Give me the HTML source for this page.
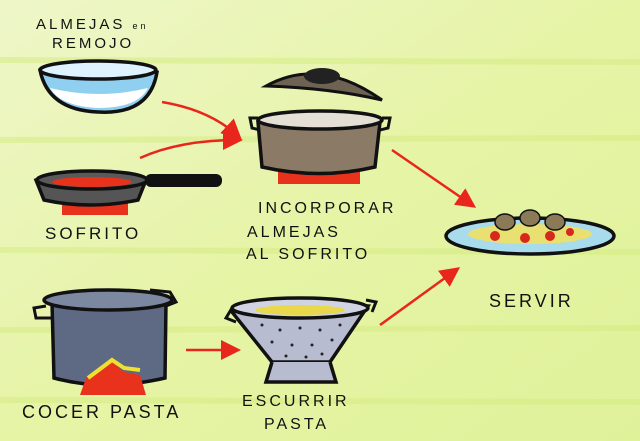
<!DOCTYPE html>
<html><head><meta charset="utf-8"><style>
html,body{margin:0;padding:0;background:#e4f29a;}
svg{display:block}
text{font-family:"Liberation Sans",sans-serif;fill:#111;letter-spacing:3px}
</style></head><body>
<svg width="640" height="441" viewBox="0 0 640 441" xmlns="http://www.w3.org/2000/svg">
<defs>
<marker id="ah" markerWidth="8" markerHeight="8" refX="6" refY="4" orient="auto" markerUnits="strokeWidth">
<path d="M0,0 L8,4 L0,8 Z" fill="#e8261c"/></marker>
<linearGradient id="bg" x1="0" y1="0" x2="1" y2="1">
<stop offset="0" stop-color="#eef6c8"/><stop offset="0.5" stop-color="#e6f4a6"/><stop offset="1" stop-color="#dff29a"/></linearGradient>
</defs>
<rect width="640" height="441" fill="url(#bg)"/>
<g stroke="#d4ec80" stroke-width="6" opacity="0.5">
<line x1="0" y1="60" x2="640" y2="62"/><line x1="0" y1="140" x2="640" y2="138"/>
<line x1="0" y1="250" x2="640" y2="252"/><line x1="0" y1="330" x2="640" y2="328"/>
<line x1="0" y1="400" x2="640" y2="402"/></g>

<!-- labels -->
<text x="36" y="29" font-size="15" letter-spacing="2">ALMEJAS <tspan font-size="9">en</tspan></text>
<text x="52" y="48" font-size="15">REMOJO</text>
<text x="45" y="239" font-size="17">SOFRITO</text>
<text x="258" y="213" font-size="16" letter-spacing="2">INCORPORAR</text>
<text x="247" y="237" font-size="16">ALMEJAS</text>
<text x="246" y="259" font-size="16" letter-spacing="2.5">AL SOFRITO</text>
<text x="489" y="307" font-size="18">SERVIR</text>
<text x="22" y="418" font-size="18" letter-spacing="2">COCER PASTA</text>
<text x="242" y="406" font-size="16" letter-spacing="2">ESCURRIR</text>
<text x="264" y="429" font-size="16">PASTA</text>

<!-- bowl -->
<path d="M40,70 Q98,55 157,72 Q150,115 98,112 Q48,110 40,70 Z" fill="#8fd0f0" stroke="#111" stroke-width="3.5"/>
<path d="M50,88 Q98,100 148,88 Q138,108 98,108 Q60,106 50,88Z" fill="#fff"/>
<ellipse cx="98" cy="70" rx="58" ry="9" fill="#dff2ff" stroke="#111" stroke-width="3.5"/>

<!-- pot with lid -->
<path d="M266,86 Q320,56 382,100 Q330,88 266,86Z" fill="#6e6252" stroke="#111" stroke-width="3"/>
<ellipse cx="322" cy="76" rx="18" ry="8" fill="#222"/>
<rect x="278" y="162" width="82" height="22" fill="#e8321c"/>
<path d="M258,122 L262,167 Q320,180 375,167 L380,122 Z" fill="#8a7a66" stroke="#111" stroke-width="3.5"/>
<ellipse cx="320" cy="120" rx="62" ry="9" fill="#e4e0d6" stroke="#111" stroke-width="3.5"/>
<path d="M258,118 L250,118 L252,128 L260,130" fill="none" stroke="#111" stroke-width="3"/>
<path d="M382,118 L390,118 L388,128 L380,130" fill="none" stroke="#111" stroke-width="3"/>

<!-- pan -->
<rect x="62" y="195" width="66" height="20" fill="#e8321c"/>
<path d="M36,180 Q90,165 146,180 L138,200 Q90,210 44,200 Z" fill="#555" stroke="#111" stroke-width="3.5"/>
<ellipse cx="92" cy="180" rx="55" ry="9" fill="#5a5a5a" stroke="#111" stroke-width="3.5"/>
<ellipse cx="92" cy="182" rx="40" ry="5" fill="#e8321c"/>
<rect x="145" y="174" width="77" height="13" rx="6" fill="#111"/>

<!-- plate -->
<ellipse cx="530" cy="236" rx="84" ry="18" fill="#a8dcec" stroke="#111" stroke-width="3.5"/>
<ellipse cx="530" cy="234" rx="62" ry="10" fill="#e8e070"/>
<g fill="#8a7a58" stroke="#111" stroke-width="1.5">
<ellipse cx="505" cy="222" rx="10" ry="8"/><ellipse cx="530" cy="218" rx="10" ry="8"/><ellipse cx="555" cy="222" rx="10" ry="8"/></g>
<g fill="#d8281c"><circle cx="495" cy="236" r="5"/><circle cx="525" cy="238" r="5"/><circle cx="550" cy="236" r="5"/><circle cx="570" cy="232" r="4"/></g>

<!-- big pot -->
<path d="M52,302 L54,378 Q105,392 165,378 L166,302 Z" fill="#5e6a84" stroke="#111" stroke-width="3.5"/>
<ellipse cx="108" cy="300" rx="64" ry="10" fill="#7c88a0" stroke="#111" stroke-width="3.5"/>
<path d="M46,306 L34,308 L36,318 L52,318" fill="none" stroke="#111" stroke-width="3"/>
<path d="M150,290 L170,292 L176,302 L166,306" fill="none" stroke="#111" stroke-width="3"/>
<path d="M80,395 L86,378 L100,370 L112,362 L124,372 L140,375 L146,395Z" fill="#e8321c"/>
<path d="M88,378 L104,366 L112,360 L124,368 L140,370" fill="none" stroke="#f0e030" stroke-width="4"/>

<!-- colander -->
<path d="M232,312 Q300,300 368,306 L330,362 L272,362 Z" fill="#b8bcd0" stroke="#111" stroke-width="3.5"/>
<path d="M272,362 L266,382 L336,382 L330,362" fill="#b8bcd0" stroke="#111" stroke-width="3.5"/>
<ellipse cx="300" cy="308" rx="68" ry="10" fill="#d0d4e2" stroke="#111" stroke-width="3.5"/>
<ellipse cx="300" cy="310" rx="45" ry="5" fill="#e8d84a"/>
<path d="M232,308 L226,318 L236,322" fill="none" stroke="#111" stroke-width="3"/>
<path d="M366,300 L376,302 L372,312" fill="none" stroke="#111" stroke-width="3"/>
<g fill="#222"><circle cx="262" cy="325" r="1.5"/><circle cx="280" cy="330" r="1.5"/><circle cx="300" cy="328" r="1.5"/><circle cx="320" cy="330" r="1.5"/><circle cx="340" cy="325" r="1.5"/><circle cx="272" cy="342" r="1.5"/><circle cx="292" cy="345" r="1.5"/><circle cx="312" cy="345" r="1.5"/><circle cx="332" cy="340" r="1.5"/><circle cx="286" cy="356" r="1.5"/><circle cx="306" cy="357" r="1.5"/><circle cx="322" cy="354" r="1.5"/></g>

<!-- arrows -->
<g stroke="#e8261c" stroke-width="2.5" fill="none" marker-end="url(#ah)">
<path d="M162,102 Q210,110 238,136"/>
<path d="M140,158 Q180,140 238,140"/>
<path d="M392,150 L472,205"/>
<path d="M186,350 L236,350"/>
<path d="M380,325 L456,270"/>
</g>
</svg>
</body></html>
